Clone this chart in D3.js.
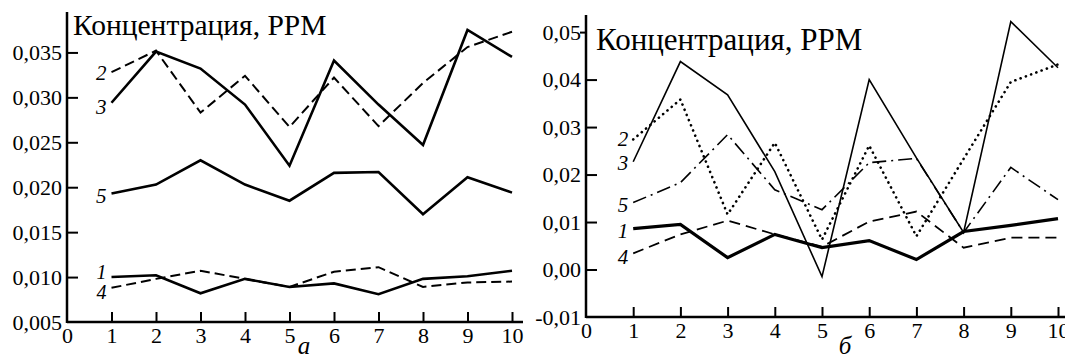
<!DOCTYPE html>
<html>
<head>
<meta charset="utf-8">
<script src="https://cdn.jsdelivr.net/npm/d3@7"></script>
<style>
  body { margin: 0; background: #fff; }
</style>
</head>
<body>
<svg width="1065" height="360"></svg>
<script>
// sample numbers along x
let samples = [1, 2, 3, 4, 5, 6, 7, 8, 9, 10];
let xTickLabels = [0, 1, 2, 3, 4, 5, 6, 7, 8, 9, 10];

// panel a
let aTicks = [0.005, 0.010, 0.015, 0.020, 0.025, 0.030, 0.035];
let a1 = [0.0100, 0.0102, 0.0082, 0.0098, 0.0089, 0.0093, 0.0081, 0.0098, 0.0101, 0.0107];
let a2 = [0.0328, 0.0352, 0.0283, 0.0324, 0.0267, 0.0322, 0.0268, 0.0316, 0.0356, 0.0373];
let a3 = [0.0294, 0.0351, 0.0332, 0.0292, 0.0224, 0.0341, 0.0292, 0.0247, 0.0375, 0.0345];
let a4 = [0.0088, 0.0098, 0.0107, 0.0098, 0.0089, 0.0106, 0.0111, 0.0089, 0.0094, 0.0095];
let a5 = [0.0193, 0.0203, 0.0230, 0.0203, 0.0185, 0.0216, 0.0217, 0.0170, 0.0211, 0.0194];

// panel b
let bTicks = [-0.01, 0.00, 0.01, 0.02, 0.03, 0.04, 0.05];
let b1 = [0.0086, 0.0095, 0.0025, 0.0074, 0.0046, 0.0061, 0.0021, 0.0080, 0.0093, 0.0107];
let b2 = [0.0274, 0.0358, 0.0116, 0.0267, 0.0063, 0.0261, 0.0070, 0.0233, 0.0395, 0.0432];
let b3 = [0.0227, 0.0438, 0.0368, 0.0206, -0.0015, 0.0400, 0.0235, 0.0078, 0.0522, 0.0425];
let b4 = [0.0034, 0.0074, 0.0103, 0.0074, 0.0048, 0.0101, 0.0122, 0.0046, 0.0067, 0.0067];
let b5 = [0.0141, 0.0183, 0.0284, 0.0168, 0.0126, 0.0225, 0.0234, 0.0078, 0.0215, 0.0147];

let title = 'Концентрация, PPM';
let serif = '"Liberation Serif", "Times New Roman", serif';

let svg = d3.select('svg').attr('font-family', serif);

function panel(opts) {
  let g = svg.append('g');
  let x = d3.scaleLinear().domain([0, 10]).range(opts.xr);
  let y = d3.scaleLinear().domain(opts.yd).range(opts.yr);

  // ticks + labels
  let xAxis = g.append('g')
    .attr('transform', `translate(0,${opts.yr[0]})`)
    .call(d3.axisBottom(x).tickValues(xTickLabels).tickSize(-10).tickPadding(5).tickFormat(d3.format('d')))
    .attr('font-family', serif)
    .attr('font-size', 22);
  xAxis.select('.domain').remove();
  xAxis.selectAll('line').attr('stroke-width', 2).filter((d) => d === 0).remove();
  xAxis.selectAll('text').attr('fill', '#000');

  let yAxis = g.append('g')
    .attr('transform', `translate(${opts.xr[0]},0)`)
    .call(d3.axisLeft(y).tickValues(opts.ticks).tickSize(-11).tickPadding(5).tickFormat(opts.fmt))
    .attr('font-family', serif)
    .attr('font-size', 22);
  yAxis.select('.domain').remove();
  yAxis.selectAll('line').attr('stroke-width', 2);
  yAxis.selectAll('text').attr('fill', '#000');
  if (opts.topOut) {
    yAxis.selectAll('.tick').filter((d) => d === opts.ticks[opts.ticks.length - 1])
      .select('line').attr('x2', -6);
  }
  yAxis.selectAll('.tick').filter((d) => d === opts.ticks[0]).select('line').remove();

  // axis lines
  g.append('line')
    .attr('x1', x(0)).attr('x2', opts.xEnd)
    .attr('y1', opts.yr[0]).attr('y2', opts.yr[0])
    .attr('stroke', '#000').attr('stroke-width', 2.5);
  g.append('line')
    .attr('x1', x(0)).attr('x2', x(0))
    .attr('y1', opts.yr[0] + 1).attr('y2', opts.yr[1])
    .attr('stroke', '#000').attr('stroke-width', 2.5);

  g.append('text')
    .attr('x', x(0) + opts.titleDx).attr('y', opts.titleY)
    .attr('font-size', opts.titleSize)
    .text(title);

  let line = d3.line().x((d, i) => x(samples[i])).y((d) => y(d));

  opts.series.forEach((s) => {
    g.append('path')
      .datum(s.values)
      .attr('d', line)
      .attr('fill', 'none')
      .attr('stroke', '#000')
      .attr('stroke-width', s.width)
      .attr('stroke-dasharray', s.dash || null)
      .attr('stroke-linecap', s.cap || 'butt')
      .attr('stroke-linejoin', 'miter');
    g.append('text')
      .attr('x', x(samples[0]) - 5 + (s.ldx || 0))
      .attr('y', y(s.values[0]) + (s.ldy || 0))
      .attr('dy', '0.35em')
      .attr('text-anchor', 'end')
      .attr('font-size', s.lsize || 21)
      .attr('font-style', 'italic')
      .text(s.name);
  });

  g.append('text')
    .attr('x', opts.subX).attr('y', 354)
    .attr('font-size', 25)
    .attr('font-style', 'italic')
    .attr('text-anchor', 'middle')
    .text(opts.sub);
}

panel({
  xr: [67, 512],
  xEnd: 523,
  yd: [0.005, 0.0395],
  yr: [322, 12],
  ticks: aTicks,
  fmt: (d) => d.toFixed(3).replace('.', ','),
  titleDx: 6,
  titleY: 35,
  titleSize: 29.5,
  subX: 304,
  sub: 'а',
  series: [
    { name: '2', values: a2, width: 2, dash: '10,5', ldy: 0 },
    { name: '3', values: a3, width: 2.6, ldy: 4 },
    { name: '5', values: a5, width: 2.6, ldy: 2 },
    { name: '1', values: a1, width: 2.6, ldy: -5, lsize: 20 },
    { name: '4', values: a4, width: 2, dash: '10,5', ldy: 4, lsize: 20 },
  ],
});

panel({
  xr: [586, 1058],
  xEnd: 1065,
  yd: [-0.01, 0.0536],
  yr: [317, 15],
  ticks: bTicks,
  fmt: (d) => d.toFixed(2).replace('.', ','),
  topOut: true,
  titleDx: 10,
  titleY: 50,
  titleSize: 31,
  subX: 845,
  sub: 'б',
  series: [
    { name: '2', values: b2, width: 2.6, dash: '0.1,5.5', cap: 'round', ldy: -1 },
    { name: '3', values: b3, width: 1.6, ldy: 1 },
    { name: '5', values: b5, width: 1.6, dash: '14,5,2,5', ldy: 2 },
    { name: '1', values: b1, width: 3.2, ldy: 2 },
    { name: '4', values: b4, width: 1.8, dash: '11,6', ldy: 3 },
  ],
});
</script>
</body>
</html>
